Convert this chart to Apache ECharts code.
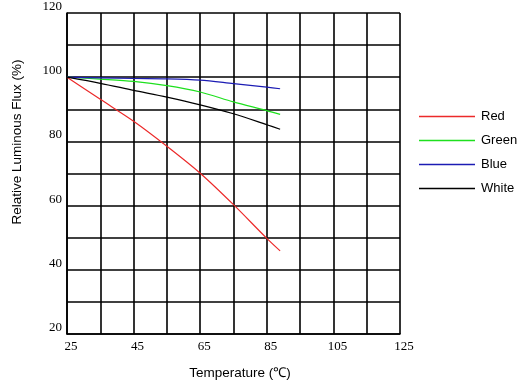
<!DOCTYPE html>
<html>
<head>
<meta charset="utf-8">
<script src="https://cdn.jsdelivr.net/npm/echarts@6/dist/echarts.min.js"></script>
<style>
  html, body { margin: 0; padding: 0; background: #fff; }
  #chart { width: 526px; height: 384px; }
</style>
</head>
<body>
<div id="chart"></div>
<script>
// temperature points (℃)
var temps = [25, 35, 45, 55, 65, 75, 85, 89];

// relative luminous flux (%)
var redFlux   = [100, 93.1, 86.3, 78.5, 70.1, 60.3, 49.8, 45.9];
var greenFlux = [100, 99.4, 98.7, 97.4, 95.4, 92.3, 89.6, 88.4];
var blueFlux  = [100, 99.8, 99.6, 99.5, 99.1, 98.0, 96.9, 96.4];
var whiteFlux = [100, 98.1, 95.9, 93.8, 91.4, 88.6, 85.2, 83.8];

var seriesNames = ["Red", "Green", "Blue", "White"];
var lineColors  = ["#ec2a2a", "#1ee01e", "#1c1cb4", "#000000"];

function pairs(ys) {
	var out = [];
	for (var i = 0; i < temps.length; i++) out.push([temps[i], ys[i]]);
	return out;
}

var chart = echarts.init(document.getElementById("chart"));

var allFlux = [redFlux, greenFlux, blueFlux, whiteFlux];
var series = [];
var legendItems = [];
for (var k = 0; k < allFlux.length; k++) {
	series.push({
		name: seriesNames[k],
		type: "line",
		smooth: 0.3,
		symbol: "none",
		data: pairs(allFlux[k]),
		lineStyle: { color: lineColors[k], width: 1.2 },
		itemStyle: { color: lineColors[k] }
	});
	legendItems.push({
		name: seriesNames[k],
		itemStyle: { color: lineColors[k], borderWidth: 0 }
	});
}

var option = {
	animation: false,
	backgroundColor: "#fff",
	grid: { left: 67, top: 10, width: 333, height: 324 },
	legend: {
		orient: "vertical",
		left: 414,
		top: 103,
		itemWidth: 56,
		itemHeight: 1.4,
		itemGap: 7,
		icon: "rect",
		data: legendItems,
		textStyle: { fontFamily: "Liberation Sans", fontSize: 13, lineHeight: 17, color: "#000", padding: [0, 0, 0, 1] }
	},
	xAxis: {
		type: "value",
		min: 25,
		max: 125,
		interval: 10,
		axisLine: { show: true, lineStyle: { color: "#000", width: 1.6 } },
		axisTick: { show: false },
		splitLine: { show: true, lineStyle: { color: "#000", width: 1.6 } },
		axisLabel: {
			margin: 6,
			padding: [0, 0, 0, 8],
			fontFamily: "Liberation Serif",
			fontSize: 13,
			color: "#000",
			formatter: function(v) { return (v - 25) % 20 === 0 ? String(v) : ""; }
		}
	},
	yAxis: {
		type: "value",
		min: 20,
		max: 120,
		interval: 10,
		axisLine: { show: true, lineStyle: { color: "#000", width: 1.6 } },
		axisTick: { show: false },
		splitLine: { show: true, lineStyle: { color: "#000", width: 1.6 } },
		axisLabel: {
			margin: 5,
			verticalAlign: "bottom",
			fontFamily: "Liberation Serif",
			fontSize: 13,
			color: "#000",
			formatter: function(v) { return (v - 20) % 20 === 0 ? String(v) : ""; }
		}
	},
	graphic: [
		{
			type: "text",
			x: 17,
			y: 142,
			rotation: Math.PI / 2,
			style: {
				text: "Relative Luminous Flux (%)",
				fontFamily: "Liberation Sans",
				fontSize: 13.5,
				fill: "#000",
				align: "center",
				verticalAlign: "middle"
			}
		},
		{
			type: "text",
			x: 240,
			y: 373,
			style: {
				text: "Temperature (℃)",
				fontFamily: "Liberation Sans",
				fontSize: 13.5,
				fill: "#000",
				align: "center",
				verticalAlign: "middle"
			}
		}
	],
	series: series
};

chart.setOption(option);
</script>
</body>
</html>
